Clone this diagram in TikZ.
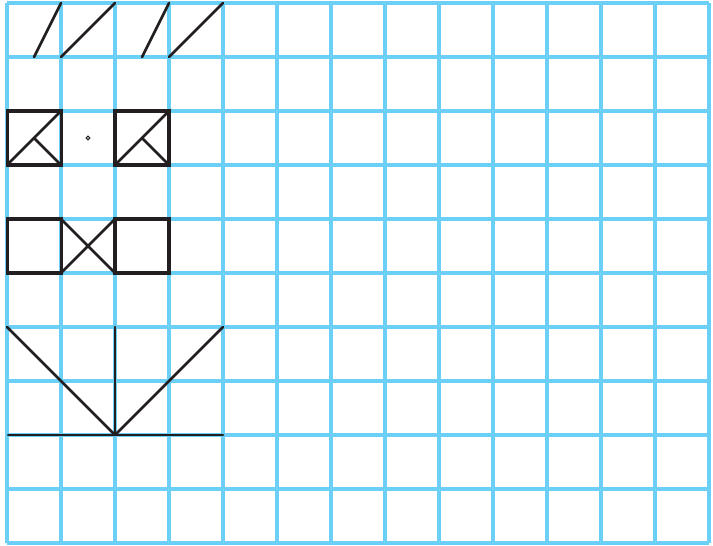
\documentclass[tikz,border=0pt]{standalone}
\begin{document}
\begin{tikzpicture}[x=1cm,y=1cm,
  gridline/.style={draw=gridblue,line width=1.65pt},
  ink/.style={draw=inkblack,line width=1.4pt,line cap=round,line join=miter},
  boxink/.style={draw=inkblack,line width=1.6pt,line join=miter}]
\definecolor{gridblue}{HTML}{6CCFF6}
\definecolor{inkblack}{HTML}{231F20}
\useasboundingbox (-0.13,-0.037) rectangle (13.074,10.056);
\fill[white] (-0.13,-0.037) rectangle (13.074,10.056);
\draw[gridline] (0,0) grid (13,10);
% top row strokes
\draw[ink] (0.5,9) -- (1,10);
\draw[ink] (1,9) -- (2,10);
\draw[ink] (2.5,9) -- (3,10);
\draw[ink] (3,9) -- (4,10);
% squares with diagonals
\foreach \x in {0,2}{
  \draw[boxink] (\x,7) rectangle (\x+1,8);
  \draw[ink] (\x,7) -- (\x+1,8);
  \draw[ink] (\x+0.5,7.5) -- (\x+1,7);
}
\draw[inkblack,line width=0.6pt] (1.5,7.5) circle (0.035);
% squares and cross
\draw[boxink] (0,5) rectangle (1,6);
\draw[boxink] (2,5) rectangle (3,6);
\draw[ink] (1,6) -- (2,5);
\draw[ink] (1,5) -- (2,6);
% bottom figure
\draw[ink] (0,4) -- (2,2);
\draw[ink] (2,4) -- (2,2);
\draw[ink] (4,4) -- (2,2);
\draw[ink] (0.02,2) -- (4,2);
\end{tikzpicture}
\end{document}
